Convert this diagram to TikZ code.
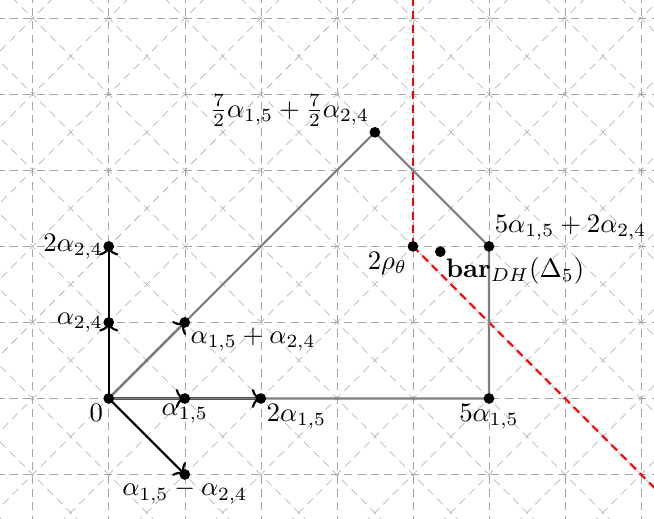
\documentclass[tikz,border=0pt]{standalone}
\usepackage{amsmath}
\usetikzlibrary{arrows.meta, positioning}

\begin{document}
\begin{tikzpicture}[x=1cm, y=1cm,
    gridline/.style={gray!70, densely dashed, very thin},
    vec/.style={->, thick, black},
    hull/.style={gray, thick},
    wall/.style={red, densely dashed, thick},
    lbl/.style={inner sep=2pt}]
  \useasboundingbox (-1.43,-1.58) rectangle (7.17,5.24);
  % background lattice
  \begin{scope}
    \clip (-1.43,-1.58) rectangle (7.17,5.24);
    \foreach \i in {-2,...,8}
      \draw[gridline] (\i,-2) -- (\i,6);
    \foreach \j in {-2,...,6}
      \draw[gridline] (-2,\j) -- (8,\j);
    \foreach \k in {-8,...,14} {
      \draw[gridline] (\k-4,-4) -- (\k+10,10);
      \draw[gridline] (\k+4,-4) -- (\k-10,10);
    }
  \end{scope}
  % points
  \coordinate (o) at (0,0);
  \coordinate (a) at (1,0);
  \coordinate (aa) at (2,0);
  \coordinate (a5) at (5,0);
  \coordinate (b) at (0,1);
  \coordinate (bb) at (0,2);
  \coordinate (ab) at (1,1);
  \coordinate (amb) at (1,-1);
  \coordinate (top) at (3.5,3.5);
  \coordinate (corner) at (5,2);
  \coordinate (rho) at (4,2);
  \coordinate (bar) at (4.36,1.93);
  \coordinate (wtop) at (4,5.4);
  \coordinate (wbot) at (7.6,-1.6);
  % walls
  \draw[wall] (rho) -- (wtop);
  \draw[wall] (rho) -- (wbot);
  % roots
  \draw[vec] (o) -- (a);
  \draw[vec] (o) -- (aa);
  \draw[vec] (o) -- (b);
  \draw[vec] (o) -- (bb);
  \draw[vec] (o) -- (ab);
  \draw[vec] (o) -- (amb);
  % polytope
  \draw[hull] (o) -- (a5) -- (corner) -- (top) -- cycle;
  % dots
  \foreach \p in {o,a,aa,a5,b,bb,ab,amb,top,corner,rho,bar}
    \fill (\p) circle (2pt);
  % labels
  \node[lbl, below left=0pt of o] (lo) {$0$};
  \node[lbl, below=0pt of a] (la) {$\alpha_{1,5}$};
  \node[lbl, below right=0pt of aa] (laa) {$2\alpha_{1,5}$};
  \node[lbl, below=0pt of a5] (la5) {$5\alpha_{1,5}$};
  \node[lbl, left=0pt of b] (lb) {$\alpha_{2,4}$};
  \node[lbl, left=0pt of bb] (lbb) {$2\alpha_{2,4}$};
  \node[lbl, below right=0pt of ab] (lab) {$\alpha_{1,5}+\alpha_{2,4}$};
  \node[lbl, below=0pt of amb] (lamb) {$\alpha_{1,5}-\alpha_{2,4}$};
  \node[lbl, above left=0pt of top] (ltop) {$\frac{7}{2}\alpha_{1,5}+\frac{7}{2}\alpha_{2,4}$};
  \node[lbl, above right=0pt of corner] (lcorner) {$5\alpha_{1,5}+2\alpha_{2,4}$};
  \node[lbl, below left=0pt of rho] (lrho) {$2\rho_\theta$};
  \node[lbl, below right=0pt of bar] (lbar) {$\mathbf{bar}_{DH}(\Delta_5)$};
\end{tikzpicture}
\end{document}
